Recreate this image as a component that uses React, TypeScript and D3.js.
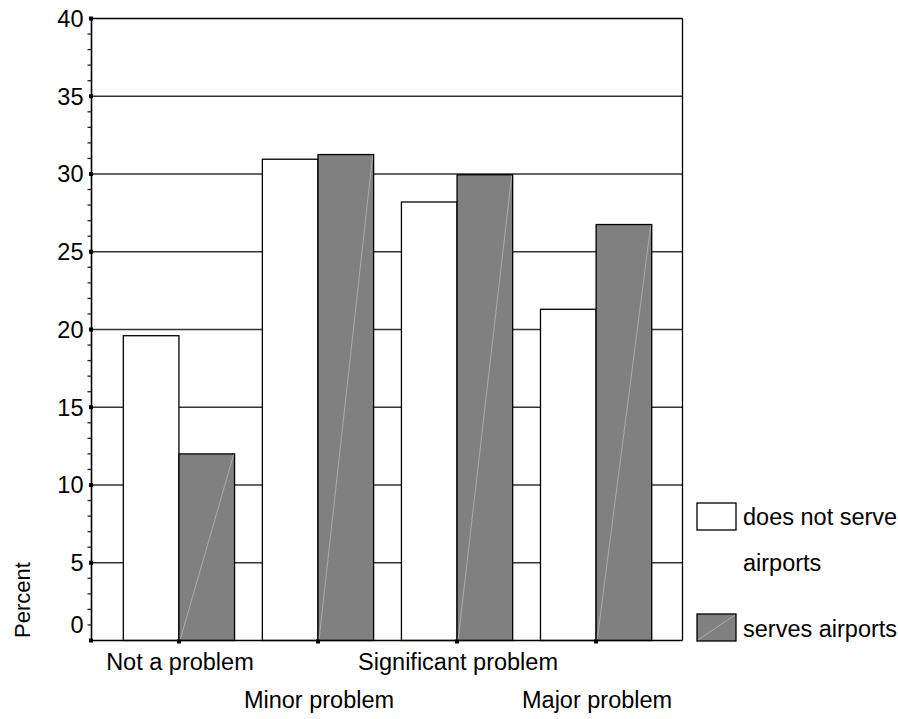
import React from "react";
import * as d3 from "d3";

const categories = ["Not a problem", "Minor problem", "Significant problem", "Major problem"];
const doesNotServe = [19.6, 30.95, 28.2, 21.3];
const servesAirports = [12.0, 31.25, 29.95, 26.75];
const yTicks = [0, 5, 10, 15, 20, 25, 30, 35, 40];
const seriesNames = ["does not serve", "airports", "serves airports"];

const W = 898, H = 719;
const left = 91.5, right = 682.5, top = 18.5, bottom = 640.5;
const FONT = "'Liberation Sans', Arial, sans-serif";
const FS = 23.5;

export default function App() {
  const y = d3.scaleLinear().domain([0, 40]).range([bottom, top]);
  const x = d3.scalePoint<string>().domain(categories).range([left, right]).padding(0.625).align(0.503);
  const step = x.step();
  const bw = step * 0.4;
  const minor = d3.range(0, 41).filter((v) => v % 5 !== 0);

  return (
    <svg width={W} height={H} style={{ position: "absolute", left: 0, top: 0, background: "#fff" }} fontFamily={FONT}>
      {/* gridlines */}
      {yTicks.filter((t) => t > 0).map((t) => (
        <line key={"g" + t} x1={left} x2={right} y1={y(t)} y2={y(t)} stroke={t === 40 ? "#000" : "#333"} strokeWidth={1.4} />
      ))}
      <line x1={right} x2={right} y1={top} y2={bottom} stroke="#000" strokeWidth={1.3} />
      {/* bars */}
      {categories.map((c, i) => {
        const cx = x(c)!;
        const y0 = y(0);
        const yw = y(doesNotServe[i]);
        const yg = y(servesAirports[i]);
        return (
          <g key={c}>
            <rect x={cx - bw} y={yw} width={bw} height={y0 - yw} fill="#fff" stroke="#000" strokeWidth={1.3} />
            <rect x={cx} y={yg} width={bw} height={y0 - yg} fill="#808080" stroke="#000" strokeWidth={1.3} />
            <line x1={cx + 1} y1={y0} x2={cx + bw - 1} y2={yg + 1} stroke="#b8b8b8" strokeWidth={0.8} />
          </g>
        );
      })}
      {/* y axis */}
      <line x1={left} x2={left} y1={top} y2={bottom} stroke="#000" strokeWidth={1.6} />
      {minor.map((v) => (
        <line key={"m" + v} x1={left - 4} x2={left} y1={y(v)} y2={y(v)} stroke="#222" strokeWidth={1.3} />
      ))}
      {yTicks.map((t) => (
        <rect key={"s" + t} x={left - 2.5} y={y(t) - 2} width={4} height={4} fill="#000" />
      ))}
      {yTicks.map((t) => (
        <text key={"l" + t} x={83.5} y={t === 0 ? y(1) : y(t)} dy="0.36em" textAnchor="end" fontSize={FS} fill="#000">
          {t}
        </text>
      ))}
      {/* x axis */}
      <line x1={left} x2={right} y1={bottom} y2={bottom} stroke="#000" strokeWidth={1.6} />
      {categories.map((c) => (
        <rect key={"xs" + c} x={x(c)! - 2} y={bottom - 1} width={4} height={4} fill="#000" />
      ))}
      {categories.map((c, i) => (
        <text key={"xl" + c} x={x(c)! + 1} y={i % 2 === 0 ? 670 : 708} textAnchor="middle" fontSize={FS} fill="#000">
          {c}
        </text>
      ))}
      <text transform="translate(30,638) rotate(-90)" fontSize={22} fill="#000">Percent</text>
      {/* legend */}
      <rect x={697} y={503} width={39} height={27} fill="#fff" stroke="#000" strokeWidth={1.3} />
      <text x={743} y={525} fontSize={FS} fill="#000">{seriesNames[0]}</text>
      <text x={743} y={571} fontSize={FS} fill="#000">{seriesNames[1]}</text>
      <rect x={697} y={614} width={39} height={27} fill="#808080" stroke="#000" strokeWidth={1.3} />
      <line x1={698} y1={640} x2={735} y2={615} stroke="#b8b8b8" strokeWidth={0.8} />
      <text x={743} y={637} fontSize={FS} fill="#000">{seriesNames[2]}</text>
    </svg>
  );
}
